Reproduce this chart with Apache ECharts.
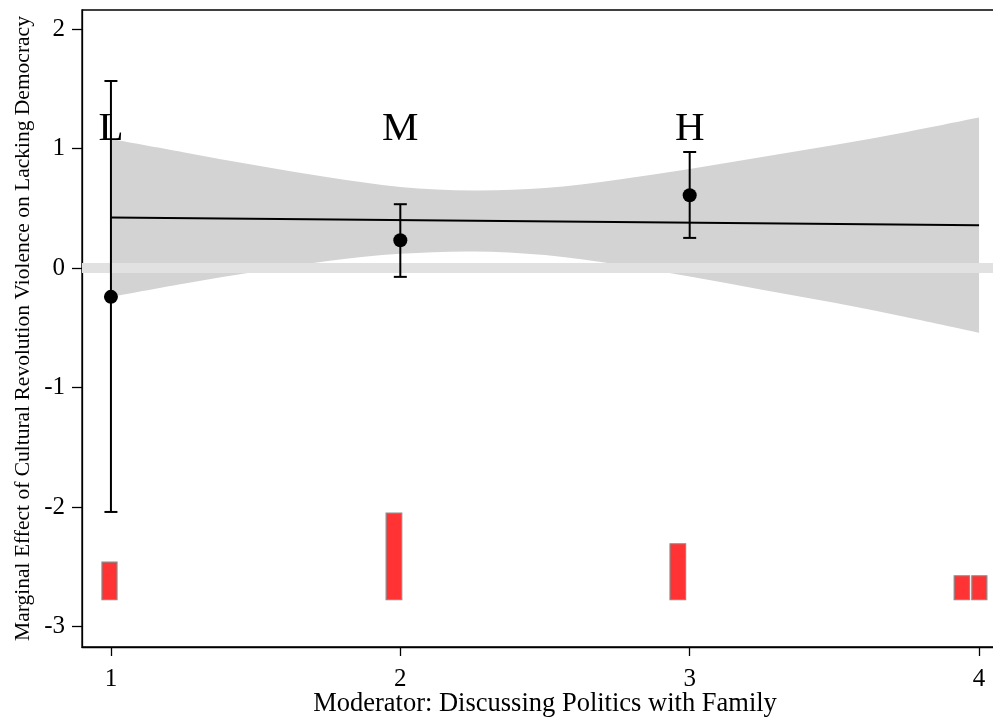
<!DOCTYPE html>
<html>
<head>
<meta charset="utf-8">
<script src="https://cdn.jsdelivr.net/npm/echarts@6/dist/echarts.min.js"></script>
<style>html,body{margin:0;padding:0;background:#fff;overflow:hidden}#c{width:993px;height:720px}</style>
</head>
<body>
<div id="c"></div>
<script>
// Confidence band of the linear marginal effect
const bandX = [1, 1.25, 1.5, 1.75, 2, 2.25, 2.5, 2.75, 3, 3.25, 3.5, 3.75, 4];
const bandUpper = [1.08, 0.97, 0.86, 0.76, 0.68, 0.65, 0.67, 0.74, 0.83, 0.93, 1.03, 1.14, 1.26];
const bandLower = [-0.24, -0.13, -0.03, 0.06, 0.12, 0.14, 0.11, 0.03, -0.07, -0.18, -0.29, -0.41, -0.54];
// Linear marginal effect line
const lineX = [1, 4];
const lineY = [0.424, 0.358];
// Binned estimates (L, M, H)
const groupX = [1, 2, 3];
const groupLabels = ['L', 'M', 'H'];
const groupEst = [-0.24, 0.234, 0.61];
const groupLow = [-2.04, -0.073, 0.253];
const groupHigh = [1.566, 0.535, 0.972];
const groupLabelY = 1.16;
// Histogram of moderator
const binStart = [0.969, 1.951, 2.932, 3.914, 3.975];
const binEnd = [1.021, 2.005, 2.986, 3.967, 4.027];
const binTop = [-2.459, -2.049, -2.306, -2.574, -2.574];
const histBase = -2.774;
// Ticks
const xTicks = [1, 2, 3, 4];
const yTicks = [-3, -2, -1, 0, 1, 2];

const FONT = '"Liberation Serif", "DejaVu Serif", serif';
const chart = echarts.init(document.getElementById('c'), null, {renderer: 'canvas'});

function smoothSeg(pts) {
  let d = '';
  for (let i = 0; i < pts.length - 1; i++) {
    const p0 = pts[i - 1] || pts[i], p1 = pts[i], p2 = pts[i + 1], p3 = pts[i + 2] || pts[i + 1];
    const c1 = [p1[0] + (p2[0] - p0[0]) / 6, p1[1] + (p2[1] - p0[1]) / 6];
    const c2 = [p2[0] - (p3[0] - p1[0]) / 6, p2[1] - (p3[1] - p1[1]) / 6];
    d += ' C' + c1[0] + ' ' + c1[1] + ' ' + c2[0] + ' ' + c2[1] + ' ' + p2[0] + ' ' + p2[1];
  }
  return d;
}

const option = {
  animation: false,
  backgroundColor: '#fff',
  grid: {left: 82, width: 926, top: 10, bottom: 73, containLabel: false, outerBoundsMode: 'none',
         show: true, borderColor: '#000', borderWidth: 1.3, backgroundColor: 'transparent'},
  xAxis: {
    type: 'value', min: 0.9, max: 4.1,
    name: 'Moderator: Discussing Politics with Family',
    nameLocation: 'middle', nameGap: 44, nameMoveOverlap: false,
    nameTextStyle: {fontFamily: FONT, fontSize: 26.5, color: '#000'},
    axisLine: {show: true, onZero: false, lineStyle: {color: '#000', width: 1.3}},
    axisTick: {show: true, length: 9, lineStyle: {color: '#000', width: 1.3}, customValues: xTicks},
    axisLabel: {fontFamily: FONT, fontSize: 25, color: '#000', margin: 20, customValues: xTicks},
    splitLine: {show: false}
  },
  yAxis: {
    type: 'value', min: -3.17, max: 2.16,
    name: 'Marginal Effect of Cultural Revolution Violence on Lacking Democracy',
    nameLocation: 'middle', nameGap: 48, nameMoveOverlap: false,
    nameTextStyle: {fontFamily: FONT, fontSize: 21.5, color: '#000'},
    axisLine: {show: true, onZero: false, lineStyle: {color: '#000', width: 1.3}},
    axisTick: {show: true, length: 10, lineStyle: {color: '#000', width: 1.3}, customValues: yTicks},
    axisLabel: {fontFamily: FONT, fontSize: 25, color: '#000', margin: 17, customValues: yTicks},
    splitLine: {show: false}
  },
  series: [
    {
      type: 'line', data: [], z: 1, silent: true,
      markLine: {
        silent: true, symbol: 'none', label: {show: false},
        lineStyle: {color: '#e1e1e1', width: 10, type: 'solid'},
        data: [{yAxis: 0}]
      }
    },
    {
      type: 'custom', z: 2, silent: true,
      data: bandX.map((x, i) => [x, bandLower[i], bandUpper[i]]),
      renderItem: function (params, api) {
        if (params.dataIndex !== 0) return null;
        const up = bandX.map((x, i) => api.coord([x, bandUpper[i]]));
        const lo = bandX.map((x, i) => api.coord([x, bandLower[i]])).reverse();
        let d = 'M' + up[0][0] + ' ' + up[0][1] + smoothSeg(up);
        d += ' L' + lo[0][0] + ' ' + lo[0][1] + smoothSeg(lo) + ' Z';
        return {type: 'path', shape: {pathData: d}, style: {fill: '#d3d3d3', stroke: null}};
      }
    },
    {
      type: 'line', z: 3, symbol: 'none', silent: true,
      lineStyle: {color: '#000', width: 2},
      data: lineX.map((x, i) => [x, lineY[i]])
    },
    {
      type: 'custom', z: 4, silent: true,
      data: binStart.map((s, i) => [s, binEnd[i], binTop[i], histBase]),
      renderItem: function (params, api) {
        const p0 = api.coord([api.value(0), api.value(2)]);
        const p1 = api.coord([api.value(1), api.value(3)]);
        return {
          type: 'rect',
          shape: {x: p0[0], y: p0[1], width: p1[0] - p0[0], height: p1[1] - p0[1]},
          style: {fill: '#ff3333', stroke: '#8a8a8a', lineWidth: 1.2}
        };
      }
    },
    {
      type: 'custom', z: 5, silent: true,
      data: groupX.map((x, i) => [x, groupLow[i], groupHigh[i]]),
      renderItem: function (params, api) {
        const lo = api.coord([api.value(0), api.value(1)]);
        const hi = api.coord([api.value(0), api.value(2)]);
        const w = 6.5;
        const st = {stroke: '#000', lineWidth: 2};
        return {
          type: 'group',
          children: [
            {type: 'line', shape: {x1: lo[0], y1: lo[1], x2: hi[0], y2: hi[1]}, style: st},
            {type: 'line', shape: {x1: lo[0] - w, y1: lo[1], x2: lo[0] + w, y2: lo[1]}, style: st},
            {type: 'line', shape: {x1: hi[0] - w, y1: hi[1], x2: hi[0] + w, y2: hi[1]}, style: st}
          ]
        };
      }
    },
    {
      type: 'scatter', z: 6, silent: true, symbol: 'circle', symbolSize: 14,
      itemStyle: {color: '#000', opacity: 1},
      data: groupX.map((x, i) => [x, groupEst[i]])
    },
    {
      type: 'scatter', z: 6, silent: true, symbolSize: 0,
      itemStyle: {color: '#000', opacity: 1},
      label: {show: true, position: 'inside', formatter: p => p.data[2], fontFamily: FONT, fontSize: 41, color: '#000', textBorderWidth: 0},
      data: groupX.map((x, i) => [x, groupLabelY, groupLabels[i]])
    }
  ]
};
chart.setOption(option);
</script>
</body>
</html>
